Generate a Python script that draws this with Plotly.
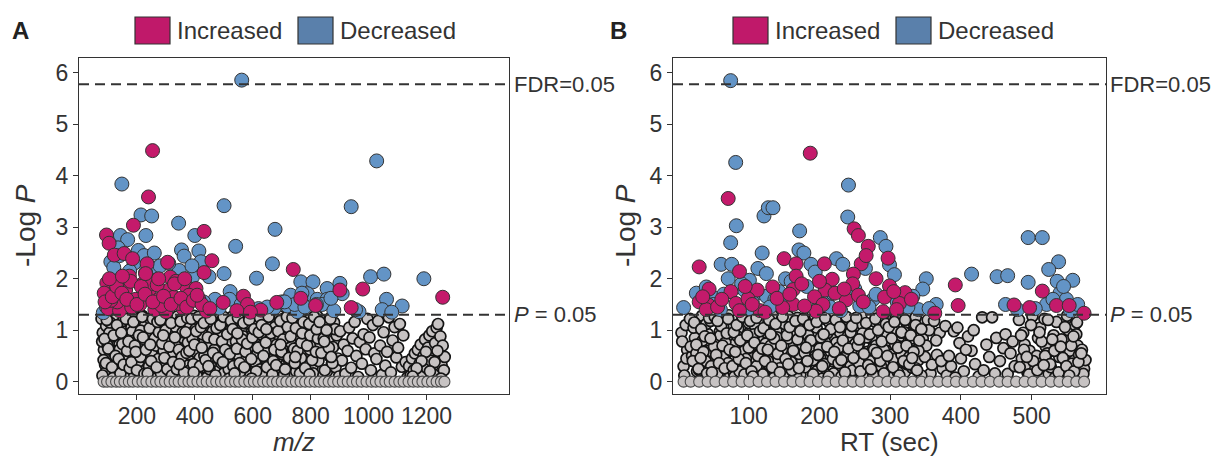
import plotly.graph_objects as go

# ---------------- Panel A (m/z) ----------------
inc_a_mz = [254, 240, 188, 95, 104, 432, 122, 156, 185, 235, 306, 459, 432, 740, 174, 315, 96, 220, 369, 404,
            161, 242, 310, 327, 414, 276, 121, 196, 87, 568, 498, 683, 766, 817, 901, 980, 1256, 940, 582, 628,
            100, 140, 182, 262, 300, 360, 440, 545, 592, 132, 210, 285, 345, 380, 110, 250,
            90, 115, 130, 148, 165, 178, 200, 215, 228, 255, 270, 292, 318, 335, 352, 372, 395, 425, 452, 105,
            150, 230, 275, 330, 365, 408]
inc_a_lp = [4.49, 3.59, 3.04, 2.85, 2.69, 2.92, 2.46, 2.49, 2.39, 2.29, 2.32, 2.35, 2.12, 2.18, 2.05, 2.03, 1.92, 1.9, 1.86, 1.81,
            1.78, 1.78, 1.78, 1.64, 1.6, 1.6, 1.72, 1.6, 1.72, 1.66, 1.54, 1.54, 1.62, 1.48, 1.78, 1.8, 1.64, 1.44, 1.5, 1.39,
            1.42, 1.38, 1.45, 1.4, 1.36, 1.42, 1.37, 1.38, 1.35, 1.55, 1.5, 1.48, 1.52, 1.68, 1.58, 1.9,
            1.55, 1.65, 1.85, 1.72, 1.6, 1.95, 1.5, 1.85, 1.7, 1.55, 1.88, 1.66, 1.5, 1.95, 1.62, 1.45, 1.58, 1.5, 1.42, 2.0,
            2.05, 2.1, 2.0, 1.9, 2.0, 1.68]

dec_a_mz = [562, 1028, 148, 501, 940, 214, 251, 231, 344, 677, 143, 168, 400, 541, 354, 363, 414, 421, 668, 110,
            128, 162, 254, 263, 346, 392, 449, 501, 613, 522, 766, 808, 857, 901, 731, 789, 823, 857, 909, 1007,
            1053, 1191, 1062, 1116, 1047, 967, 674, 720, 754, 484, 84, 135, 190, 280, 300, 230, 120, 700, 745, 780,
            840, 880, 620, 470, 955, 205,
            95, 140, 175, 225, 260, 310, 390, 430, 520, 560, 650, 710, 770, 820, 870, 1080]
dec_a_lp = [5.86, 4.29, 3.84, 3.42, 3.4, 3.24, 3.22, 2.84, 3.08, 2.96, 2.84, 2.76, 2.84, 2.63, 2.56, 2.44, 2.54, 2.33, 2.29, 2.33,
            2.1, 2.0, 2.2, 1.97, 2.16, 2.04, 2.04, 2.1, 2.01, 1.75, 1.94, 1.94, 1.81, 1.91, 1.68, 1.71, 1.6, 1.6, 1.71, 2.04,
            2.09, 2.0, 1.6, 1.47, 1.4, 1.36, 1.43, 1.47, 1.36, 1.43, 1.34, 2.6, 2.3, 2.25, 1.5, 2.12, 2.22, 1.55, 1.5, 1.45,
            1.5, 1.38, 1.42, 1.6, 1.4, 2.55,
            1.45, 2.45, 2.15, 2.45, 2.5, 2.3, 2.25, 1.55, 1.6, 1.5, 1.45, 1.55, 1.72, 1.5, 1.62, 1.35]

ns_a_mz = [78, 82, 86, 90, 94, 97, 80, 102, 106, 110, 115, 119, 123, 108, 127, 131, 136, 140, 144, 148, 134,
           152, 156, 160, 165, 169, 173, 158, 177, 181, 186, 190, 194, 198, 184, 202, 206, 211, 215, 219, 223, 209,
           227, 231, 235, 240, 244, 248, 238, 252, 256, 260, 265, 269, 273, 262, 277, 281, 285, 290, 294, 298, 288,
           302, 306, 311, 315, 319, 323, 308, 327, 331, 336, 340, 344, 348, 334, 352, 356, 360, 365, 369, 373, 362,
           377, 381, 386, 390, 394, 398, 384, 402, 406, 411, 415, 419, 423, 409, 427, 431, 436, 440, 444, 448, 434,
           452, 456, 460, 465, 469, 473, 462, 477, 481, 486, 490, 494, 498, 484, 502, 506, 511, 515, 519, 523, 509,
           527, 531, 536, 540, 544, 548, 534, 552, 556, 560, 565, 569, 573, 562, 577, 581, 586, 590, 594, 598, 584,
           602, 606, 611, 615, 619, 623, 609, 627, 631, 636, 640, 644, 648, 634, 652, 656, 660, 665, 669, 673, 662,
           677, 681, 686, 690, 694, 698, 684, 702, 706, 711, 715, 719, 723, 709, 727, 731, 736, 740, 744, 748, 734,
           752, 756, 760, 765, 769, 773, 762, 777, 781, 786, 790, 794, 798, 784, 802, 806, 811, 815, 819, 823, 809,
           827, 831, 836, 840, 844, 848, 834, 852, 856, 860, 865, 869, 873, 862, 877, 881, 886, 890, 894, 898, 884,
           902, 908, 914, 920, 928, 933, 940, 945, 952, 958, 964, 970, 977, 983, 990, 996, 1003, 1008, 1015, 1020,
           1027, 1033, 1040, 1046, 1052, 1058, 1064, 1070, 1077, 1083, 1090, 1096, 1102, 1108, 1115, 1120, 1128, 1134,
           1140, 1145, 1150, 1156, 1160, 1165, 1170, 1176, 1180, 1186, 1190, 1195, 1200, 1205, 1210, 1215, 1220, 1225,
           1230, 1235, 1240, 1244, 1248, 1252, 1256, 1260, 1263, 1250, 1238, 1228, 1212, 1198, 1183, 1166, 1152,
           85, 92, 99, 105, 112, 118, 133, 141, 147, 155, 161, 170, 183, 191, 197, 205, 213, 222,
           233, 242, 250, 258, 266, 274, 283, 292, 300, 309, 317, 326, 333, 342, 350, 358, 367, 376,
           383, 392, 400, 408, 417, 426, 433, 442, 450, 458, 467, 476, 483, 492, 500, 508, 517, 526,
           533, 542, 550, 558, 567, 576, 583, 592, 600, 608, 617, 626, 633, 642, 650, 658, 667, 676,
           683, 692, 700, 708, 717, 726, 733, 742, 750, 758, 767, 776]
ns_a_lp = [1.22, 0.95, 0.62, 0.33, 1.08, 0.15, 0.78, 1.27, 0.48, 0.86, 0.21, 1.12, 0.67, 0.05, 0.92, 1.25, 0.38, 0.72, 0.12, 1.02, 0.55,
           1.18, 0.27, 0.83, 0.58, 1.29, 0.09, 0.44, 0.69, 1.05, 0.18, 1.24, 0.41, 0.88, 0.97, 0.31, 1.15, 0.75, 0.52, 1.28, 0.07, 0.63,
           1.08, 0.22, 0.91, 0.46, 0.68, 1.2, 0.35, 0.57, 1.26, 0.13, 0.81, 1.01, 0.39, 0.74, 1.17, 0.49, 0.71, 0.26, 0.94, 1.29, 0.06,
           0.84, 0.17, 1.1, 0.61, 0.37, 1.23, 0.96, 0.29, 0.99, 0.53, 1.27, 0.77, 0.11, 1.06, 1.21, 0.64, 0.85, 0.2, 1.04, 0.43, 0.58,
           0.47, 1.14, 0.08, 0.9, 0.66, 1.28, 0.32, 1.02, 0.24, 0.79, 1.19, 0.51, 0.7, 0.14, 0.6, 1.25, 0.36, 0.93, 0.1, 1.08, 0.8,
           0.88, 0.19, 1.16, 0.45, 1.29, 0.63, 0.98, 0.34, 1.07, 0.72, 0.15, 0.96, 1.22, 0.5, 1.18, 0.56, 0.28, 0.83, 0.42, 1.0, 0.07,
           0.75, 1.27, 0.12, 0.61, 1.11, 0.38, 0.9, 0.23, 0.95, 1.2, 0.48, 0.7, 0.09, 1.04, 1.13, 0.41, 0.86, 1.26, 0.17, 0.66, 0.53,
           0.5, 0.99, 0.3, 1.15, 0.78, 0.13, 1.29, 0.92, 0.21, 1.05, 0.59, 1.24, 0.44, 0.71, 0.37, 1.19, 0.68, 0.08, 0.87, 1.02, 0.26,
           1.06, 0.54, 0.15, 0.97, 1.27, 0.4, 0.81, 0.64, 1.22, 0.89, 0.33, 0.06, 1.1, 0.52, 0.18, 0.83, 1.28, 0.58, 1.01, 0.35, 0.74,
           1.17, 0.46, 0.69, 0.11, 0.93, 1.25, 0.3, 0.55, 1.03, 0.22, 0.8, 1.2, 0.62, 0.05, 0.98, 0.27, 1.12, 0.43, 0.71, 1.27, 0.16,
           0.4, 0.88, 0.6, 1.18, 0.12, 0.95, 0.73, 1.08, 0.2, 0.79, 0.5, 1.24, 0.34, 0.63, 0.67, 1.15, 0.28, 0.9, 0.45, 0.1, 1.02,
           0.98, 0.41, 0.72, 0.15, 0.6, 1.05, 0.27, 0.84, 1.16, 0.5, 0.09, 0.77, 0.35, 0.92, 0.63, 1.22, 0.86, 0.22, 1.1, 0.55,
           0.44, 1.18, 0.7, 0.13, 0.96, 0.31, 0.58, 1.25, 0.18, 0.8, 1.06, 0.47, 0.66, 1.12, 0.29, 0.9, 0.38, 0.08,
           0.3, 0.12, 0.45, 0.22, 0.55, 0.08, 0.62, 0.35, 0.72, 0.18, 0.5, 0.82, 0.27, 0.66, 0.9, 0.41, 0.98, 0.14,
           0.75, 1.05, 1.12, 0.52, 0.88, 0.33, 0.7, 0.22, 0.48, 0.06, 0.6, 0.38, 0.2, 0.58, 0.4, 0.26, 0.1,
           0.42, 0.18, 0.7, 0.95, 0.3, 0.58, 0.25, 0.63, 0.9, 0.14, 0.48, 0.8, 0.56, 0.12, 0.82, 0.38, 0.99, 0.2,
           0.88, 0.3, 0.55, 0.06, 0.7, 0.44, 0.16, 0.6, 0.36, 0.82, 0.05, 0.52, 0.7, 0.4, 0.14, 0.96, 0.32, 0.76,
           0.22, 0.84, 0.58, 0.1, 0.46, 0.92, 0.5, 0.08, 0.74, 0.28, 0.62, 0.2, 0.9, 0.36, 0.16, 0.66, 0.24, 0.8,
           0.3, 0.78, 0.52, 0.2, 0.88, 0.42, 0.66, 0.12, 0.92, 0.38, 0.56, 0.24, 0.18, 0.58, 0.34, 0.8, 0.1, 0.48,
           0.72, 0.26, 0.54, 0.14, 0.86, 0.4, 0.32, 0.64, 0.2, 0.9, 0.46, 0.12]

core_a_mz = [81, 88, 93, 101, 107, 114, 120, 126, 96, 117, 131, 137, 143, 150, 154, 162, 166, 175, 146, 171,
             181, 188, 193, 200, 207, 212, 218, 226, 196, 221, 231, 237, 244, 249, 255, 261, 268, 276, 246, 271,
             281, 287, 295, 299, 305, 312, 318, 325, 291, 321, 331, 338, 345, 351, 355, 363, 368, 374, 347, 371,
             381, 388, 395, 399, 405, 413, 418, 424, 396, 421, 431, 437, 445, 451, 455, 463, 468, 475, 447, 471,
             481, 488, 494, 499, 505, 512, 518, 525, 497, 521, 531, 537, 545, 549, 555, 563, 568, 575, 547, 571,
             581, 588, 595, 599, 605, 612, 618, 625, 596, 621, 631, 637, 645, 649, 655, 663, 668, 675, 647, 671,
             681, 688, 695, 699, 705, 712, 718, 725, 696, 721, 731, 737, 745, 749, 755, 763, 768, 775, 747, 771,
             781, 788, 795, 799, 805, 812, 818, 825, 796, 821, 831, 837, 845, 849, 855, 863, 868, 875, 847, 871]
core_a_lp = [0.12, 0.83, 0.36, 0.64, 1.15, 0.28, 0.9, 0.5, 1.2, 0.07, 1.1, 0.44, 0.16, 0.73, 0.33, 1.22, 0.6, 0.26, 0.95, 0.78,
             0.38, 1.16, 0.7, 0.22, 0.9, 0.48, 1.26, 0.15, 0.58, 0.86, 0.62, 0.16, 1.04, 0.4, 1.22, 0.84, 0.28, 0.96, 0.72, 1.16,
             1.2, 0.74, 0.46, 1.0, 0.24, 0.68, 1.14, 0.38, 0.9, 0.12, 0.86, 0.24, 0.62, 1.17, 0.48, 0.18, 0.96, 1.24, 0.34, 0.56,
             0.6, 1.22, 0.34, 0.72, 0.98, 1.26, 0.3, 0.66, 0.18, 1.06, 1.14, 0.42, 0.86, 0.24, 1.22, 0.56, 0.82, 1.04, 0.3, 0.12,
             0.46, 1.1, 0.78, 1.26, 0.62, 0.92, 0.06, 1.18, 0.38, 0.54, 1.02, 0.16, 0.64, 1.24, 0.36, 0.82, 1.14, 0.58, 0.94, 0.28,
             0.74, 1.2, 0.44, 0.86, 1.02, 0.2, 0.66, 1.24, 0.06, 0.96, 1.1, 0.5, 0.76, 0.28, 1.26, 0.94, 0.14, 0.62, 1.02, 0.4,
             0.32, 0.98, 1.18, 0.58, 0.82, 0.24, 1.26, 0.46, 0.72, 1.06, 0.88, 1.24, 0.36, 1.04, 0.6, 0.16, 0.76, 1.16, 0.48, 0.94,
             0.26, 0.7, 1.12, 0.9, 0.42, 1.26, 0.58, 0.84, 0.14, 1.02, 1.16, 0.56, 0.84, 0.22, 1.0, 0.66, 1.22, 0.36, 0.78, 0.48]

zero_a_mz = [85, 97, 112, 128, 141, 157, 172, 186, 203, 219, 233, 250, 266, 281, 297, 313, 330, 344, 361, 378,
             392, 409, 425, 441, 458, 474, 490, 505, 522, 539, 553, 571, 588, 604, 619, 636, 652, 668, 684, 700,
             716, 733, 749, 765, 781, 797, 814, 830, 846, 862, 878, 895, 911, 928, 944, 960, 976, 993, 1010, 1025,
             1041, 1058, 1073, 1090, 1106, 1121, 1138, 1154, 1170, 1186, 1203, 1219, 1235, 1250, 1262]

# ---------------- Panel B (RT) ----------------
inc_b_rt = [187, 71, 249, 255, 269, 259, 266, 30, 150, 167, 207, 87, 297, 218, 167, 248, 44, 134, 163, 208,
            247, 75, 112, 392, 299, 321, 515, 30, 43, 82, 99, 193, 205, 238, 255, 292, 313, 396, 475, 497,
            535, 553, 574, 363, 116, 123, 195, 290, 309, 40, 56, 87, 163, 179, 228, 148,
            35, 62, 95, 105, 140, 158, 175, 200, 222, 235, 262, 280, 305, 330]
inc_b_lp = [4.44, 3.56, 2.97, 2.84, 2.63, 2.29, 2.45, 2.23, 2.39, 2.29, 2.29, 2.14, 2.4, 1.99, 2.05, 2.09, 1.8, 1.84, 1.79, 1.78,
            1.9, 1.75, 1.78, 1.88, 1.86, 1.73, 1.76, 1.55, 1.49, 1.52, 1.61, 1.65, 1.5, 1.59, 1.68, 1.64, 1.52, 1.48, 1.49, 1.44,
            1.48, 1.48, 1.33, 1.33, 1.38, 1.35, 1.37, 1.36, 1.4, 1.4, 1.45, 1.38, 1.5, 1.47, 1.42, 1.44,
            1.65, 1.6, 1.85, 1.5, 1.62, 1.7, 1.9, 1.95, 1.72, 1.8, 1.55, 2.0, 1.75, 1.6]

dec_b_rt = [74.5, 81.6, 241, 121.6, 127.7, 134.3, 82.5, 240, 172, 74.5, 286, 294, 299, 306, 495, 515, 538, 524, 558, 495,
            536, 415, 451, 466, 351, 346, 119, 61, 76, 71, 171, 178, 188, 194, 224, 233, 265, 113, 125, 8,
            152, 101, 94, 111, 125, 137, 463, 521, 540, 549, 332, 318, 365, 26, 40, 54, 257, 276, 210, 219,
            60, 100, 145, 230, 270, 340, 505, 555,
            35, 50, 65, 90, 105, 130, 143, 160, 182, 200, 215, 250, 280, 310, 325, 355, 480, 530, 545, 565]
dec_b_lp = [5.85, 4.26, 3.82, 3.22, 3.38, 3.38, 3.03, 3.2, 2.93, 2.7, 2.8, 2.63, 2.27, 2.08, 2.8, 2.8, 2.33, 2.18, 1.97, 1.93,
            1.95, 2.09, 2.04, 2.06, 2.0, 1.8, 2.5, 2.28, 2.28, 2.0, 2.56, 2.5, 2.28, 2.13, 2.39, 2.28, 2.2, 2.2, 2.1, 1.44,
            2.0, 1.97, 1.78, 1.72, 1.66, 1.6, 1.5, 1.5, 1.72, 1.6, 1.66, 1.5, 1.5, 1.72, 1.84, 1.62, 1.47, 1.6, 1.6, 1.72,
            1.4, 1.42, 1.5, 1.38, 1.45, 1.4, 1.42, 1.38,
            1.6, 1.5, 1.7, 1.9, 1.55, 1.45, 1.75, 1.95, 1.85, 1.5, 1.45, 1.8, 1.7, 1.55, 1.45, 1.42, 1.4, 1.6, 1.85, 1.5]

ns_b_rt = [5, 8, 11, 13, 9, 6, 12, 17, 20, 24, 27, 22, 18, 28, 31, 34, 38, 42, 36, 40, 44,
           46, 49, 53, 57, 51, 55, 59, 61, 64, 68, 72, 66, 70, 74, 76, 79, 83, 87, 81, 85, 89,
           91, 94, 98, 102, 96, 100, 104, 106, 109, 113, 117, 111, 115, 119, 121, 124, 128, 132, 126, 130, 134,
           136, 139, 143, 147, 141, 145, 149, 151, 154, 158, 162, 156, 160, 164, 166, 169, 173, 177, 171, 175, 179,
           181, 184, 188, 192, 186, 190, 194, 196, 199, 203, 207, 201, 205, 209, 211, 214, 218, 222, 216, 220, 224,
           226, 229, 233, 237, 231, 235, 239, 241, 244, 248, 252, 246, 250, 254, 256, 259, 263, 267, 261, 265, 269,
           271, 274, 278, 282, 276, 280, 284, 286, 289, 293, 297, 291, 295, 299, 301, 304, 308, 312, 306, 310, 314,
           316, 319, 323, 327, 321, 325, 329, 331, 334, 338, 342, 336, 340, 344, 346, 349, 353, 357, 351, 355, 359,
           362, 366, 370, 374, 378, 365, 372, 380, 386, 390, 395, 400, 404, 398, 392, 410, 415, 420, 425, 430,
           436, 444, 440, 432, 450, 455, 460, 466, 470, 476, 463, 473, 418, 448, 383, 407,
           482, 486, 490, 494, 488, 492, 497, 501, 505, 509, 503, 507, 512, 516, 520, 524, 518, 522,
           527, 531, 535, 539, 533, 537, 542, 546, 550, 554, 548, 552, 557, 561, 565, 569, 563, 567, 571, 574, 576, 573,
           26, 30, 35, 39, 43, 47, 51, 56, 60, 64, 67, 71, 76, 80, 84, 87, 91, 96, 100, 104,
           107, 111, 116, 120, 124, 127, 131, 136, 140, 144, 147, 151, 156, 160, 164, 167, 171, 176, 180, 184,
           187, 191, 196, 200, 204, 207, 211, 216, 220, 224, 227, 231, 236, 240, 244, 247, 251, 256, 260, 264,
           267, 271, 276, 280, 284, 287, 291, 296, 300, 304, 307, 311, 316, 320, 324, 327, 331, 336, 340, 344]
ns_b_lp = [0.95, 0.3, 1.1, 0.62, 0.12, 0.78, 0.45, 1.22, 0.5, 0.85, 0.2, 1.05, 0.68, 0.36, 0.7, 1.28, 0.15, 0.93, 0.48, 1.12, 0.6,
           1.18, 0.38, 0.82, 0.07, 1.26, 0.55, 0.97, 0.26, 1.06, 0.64, 1.29, 0.44, 0.88, 0.13, 0.9, 0.18, 1.2, 0.52, 0.74, 1.03, 0.33,
           1.27, 0.6, 0.28, 0.98, 0.1, 1.14, 0.71, 0.46, 1.08, 0.86, 0.2, 1.25, 0.62, 0.37, 0.8, 0.12, 1.16, 0.58, 0.94, 0.3, 1.28,
           0.22, 0.99, 0.67, 1.21, 0.4, 0.83, 0.06, 1.12, 0.5, 0.31, 0.9, 1.27, 0.16, 0.72, 0.58, 1.24, 0.14, 0.77, 1.02, 0.42, 0.95,
           0.34, 0.87, 1.18, 0.09, 0.63, 1.29, 0.5, 1.05, 0.25, 0.7, 1.22, 0.46, 0.92, 0.15, 0.66, 1.15, 0.4, 0.85, 0.11, 1.26, 0.56,
           0.2, 0.96, 1.28, 0.53, 0.78, 0.32, 1.09, 1.2, 0.44, 0.62, 1.0, 0.17, 0.88, 0.29, 0.75, 1.27, 0.08, 0.58, 1.1, 0.38, 0.92,
           0.41, 0.83, 1.17, 0.23, 0.66, 1.29, 0.5, 1.08, 0.14, 0.76, 0.97, 0.35, 0.6, 1.24, 0.52, 1.21, 0.3, 0.86, 1.02, 0.1, 0.68,
           0.95, 0.37, 1.14, 0.6, 0.19, 1.28, 0.79, 0.27, 1.1, 0.55, 0.88, 1.25, 0.42, 0.07, 0.84, 0.48, 1.2, 0.16, 0.7, 1.0, 0.33,
           1.18, 0.52, 0.95, 0.25, 1.08, 0.8, 0.4, 0.12, 0.3, 0.98, 1.05, 0.45, 0.2, 0.75, 0.08, 0.88, 0.6, 0.34, 0.1, 1.25,
           0.72, 1.25, 0.48, 0.22, 0.85, 0.4, 0.65, 0.15, 0.55, 0.3, 0.92, 0.78, 1.0, 0.16, 0.5, 0.62,
           1.2, 0.45, 0.72, 0.18, 0.95, 0.32, 0.6, 1.27, 0.25, 0.85, 0.1, 0.5, 1.05, 0.38, 0.68, 0.15, 1.22, 0.55,
           0.28, 0.9, 1.16, 0.48, 0.08, 0.75, 0.82, 0.2, 1.28, 0.6, 0.4, 1.0, 0.35, 1.1, 0.7, 0.12, 0.92, 0.52, 0.62, 0.25, 0.42, 0.15,
           0.55, 0.22, 0.8, 0.4, 0.12, 0.3, 0.68, 0.16, 0.9, 0.48, 0.76, 0.36, 0.6, 0.1, 0.88, 0.2, 0.82, 0.44, 0.66, 0.05,
           0.92, 0.3, 0.56, 0.14, 0.74, 0.4, 0.7, 0.08, 0.86, 0.26, 0.62, 0.18, 0.84, 0.38, 0.98, 0.12, 0.54, 0.72, 0.28, 0.9,
           0.8, 0.42, 0.2, 0.64, 0.06, 0.34, 0.94, 0.58, 0.16, 0.76, 0.66, 0.1, 0.46, 0.88, 0.3, 0.22, 0.74, 0.36, 0.56, 0.92,
           0.86, 0.4, 0.14, 0.7, 0.5, 0.3, 0.62, 0.9, 0.08, 0.44, 0.72, 0.18, 0.52, 0.96, 0.34, 0.48, 0.84, 0.26, 0.6, 0.12]

core_b_rt = [21, 23, 26, 29, 33, 36, 38, 41, 44, 32, 46, 48, 52, 54, 58, 61, 63, 66, 69, 56,
             71, 73, 77, 79, 83, 86, 88, 91, 94, 81, 96, 98, 102, 104, 108, 111, 113, 116, 119, 106,
             121, 123, 127, 129, 133, 136, 138, 141, 144, 131, 146, 148, 152, 154, 158, 161, 163, 166, 169, 156,
             171, 173, 177, 179, 183, 186, 188, 191, 194, 181, 196, 198, 202, 204, 208, 211, 213, 216, 219, 206,
             221, 223, 227, 229, 233, 236, 238, 241, 244, 231, 246, 248, 252, 254, 258, 261, 263, 266, 269, 256,
             271, 273, 277, 279, 283, 286, 288, 291, 294, 281, 296, 298, 302, 304, 308, 311, 313, 316, 319, 306,
             321, 323, 327, 329, 333, 336, 338, 341, 344, 331,
             483, 489, 496, 502, 508, 514, 519, 526, 532, 538, 544, 549, 556, 560, 566, 570,
             485, 493, 499, 511, 517, 523, 529, 541, 547, 553, 559, 564]
core_b_lp = [0.4, 1.15, 0.72, 0.25, 1.02, 0.58, 0.88, 0.16, 1.24, 0.46, 0.84, 0.18, 1.26, 0.52, 0.36, 1.08, 0.7, 0.26, 0.94, 1.18,
             1.22, 0.62, 0.3, 0.96, 1.1, 0.44, 0.8, 1.26, 0.14, 0.58, 0.36, 0.9, 1.18, 0.2, 0.76, 1.24, 0.5, 0.98, 0.64, 0.1,
             1.04, 0.4, 0.62, 1.2, 0.28, 0.84, 1.12, 0.54, 0.18, 0.92, 0.7, 1.26, 0.44, 0.9, 1.06, 0.22, 0.6, 1.18, 0.82, 0.34,
             0.26, 0.98, 1.22, 0.56, 0.4, 1.1, 0.8, 0.14, 1.26, 0.66, 1.16, 0.52, 0.86, 0.3, 1.24, 0.68, 0.1, 1.02, 0.44, 0.92,
             0.58, 1.2, 0.36, 1.06, 0.8, 0.18, 1.26, 0.64, 0.96, 0.42, 1.08, 0.46, 1.24, 0.7, 0.2, 0.94, 0.54, 1.14, 0.32, 0.82,
             0.92, 0.24, 0.62, 1.22, 1.0, 0.4, 0.78, 0.16, 1.12, 0.56, 0.5, 1.06, 0.84, 0.28, 1.24, 0.66, 0.12, 0.96, 0.4, 1.16,
             1.2, 0.7, 0.34, 0.9, 0.58, 1.1, 0.22, 0.8, 1.02, 0.46,
             0.28, 0.62, 0.14, 0.4, 0.22, 0.78, 0.5, 0.34, 0.6, 0.18, 0.46, 0.3, 0.7, 0.2, 0.38, 0.55,
             0.9, 0.48, 1.1, 0.96, 0.32, 1.2, 0.82, 0.68, 1.06, 0.12, 0.88, 1.15]

zero_b_rt = [8, 18, 30, 42, 53, 66, 78, 90, 101, 114, 126, 138, 150, 162, 174, 186, 198, 211, 223, 235,
             247, 259, 271, 283, 296, 308, 320, 332, 344, 356, 368, 381, 393, 405, 417, 429, 441, 454, 466, 478,
             490, 502, 514, 527, 539, 551, 563, 574]

yticks = [0, 1, 2, 3, 4, 5, 6]
xticks_a = [200, 400, 600, 800, 1000, 1200]
xticks_b = [100, 200, 300, 400, 500]
fdr_line = 5.78
p_line = 1.301
labels = ["Increased", "Decreased"]

# ---------------- styling ----------------
# the page body has an 8px margin, so the figure is drawn 8px smaller and
# all layout positions below are given in window pixels and shifted by it.
OFF = 8
W, H = 1224 - OFF, 456 - OFF
PINK = "#c41a6b"
BLUE = "#6394c6"
GREY = "#c7c3c3"
EDGE = "#333333"
TXT = "#333333"
FONT = "Liberation Sans"


def px(x):
    return (x - OFF) / W


def py(y):
    return 1 - (y - OFF) / H


fig = go.Figure()


def add_panel(xa, ya, ns_x, ns_y, zero_x, dec_x, dec_y, inc_x, inc_y):
    fig.add_trace(go.Scatter(x=ns_x, y=ns_y, mode="markers", xaxis=xa, yaxis=ya,
                             marker=dict(size=11, color=GREY, line=dict(color="#141414", width=1.7))))
    fig.add_trace(go.Scatter(x=zero_x, y=[0] * len(zero_x), mode="markers", xaxis=xa, yaxis=ya,
                             marker=dict(size=11, color=GREY, line=dict(color="#4a4a4a", width=1.1))))
    fig.add_trace(go.Scatter(x=dec_x, y=dec_y, mode="markers", xaxis=xa, yaxis=ya,
                             marker=dict(size=14, color=BLUE, line=dict(color=EDGE, width=1))))
    fig.add_trace(go.Scatter(x=inc_x, y=inc_y, mode="markers", xaxis=xa, yaxis=ya,
                             marker=dict(size=14, color=PINK, line=dict(color=EDGE, width=1))))


add_panel("x", "y", ns_a_mz + core_a_mz, ns_a_lp + core_a_lp, zero_a_mz, dec_a_mz, dec_a_lp, inc_a_mz, inc_a_lp)
add_panel("x2", "y2", ns_b_rt + core_b_rt, ns_b_lp + core_b_lp, zero_b_rt, dec_b_rt, dec_b_lp, inc_b_rt, inc_b_lp)

axis_common = dict(showline=True, mirror=True, linecolor=EDGE, linewidth=1.3, ticks="outside",
                   ticklen=5, tickwidth=1.2, tickcolor=EDGE, showgrid=False, zeroline=False,
                   tickfont=dict(family=FONT, size=23, color=TXT))

ydom = [py(394), py(58)]
fig.update_layout(
    width=W, height=H, margin=dict(l=0, r=0, t=0, b=0),
    paper_bgcolor="white", plot_bgcolor="white", showlegend=False,
    xaxis=dict(domain=[px(79), px(509)], range=[0, 1485], tickvals=xticks_a, anchor="y",
               ticklabelstandoff=-4, **axis_common),
    yaxis=dict(domain=ydom, range=[-0.24, 6.29], tickvals=yticks, anchor="x", **axis_common),
    xaxis2=dict(domain=[px(673), px(1106)], range=[-7, 605], tickvals=xticks_b, anchor="y2",
                ticklabelstandoff=-4, **axis_common),
    yaxis2=dict(domain=ydom, range=[-0.24, 6.29], tickvals=yticks, anchor="x2", **axis_common),
)

shapes = []
ann = []
for xd, yr, lab_x in (("x domain", "y", 512), ("x2 domain", "y2", 1108)):
    for yv in (fdr_line, p_line):
        shapes.append(dict(type="line", xref=xd, yref=yr, x0=0, x1=1, y0=yv, y1=yv,
                           line=dict(color=EDGE, width=2, dash="10px,6px"), layer="above"))
    ann.append(dict(text="FDR=0.05", xref="paper", yref=yr, x=px(lab_x), y=fdr_line, xanchor="left",
                    yanchor="middle", showarrow=False, font=dict(family=FONT, size=22, color=TXT)))
    ann.append(dict(text="<i>P</i> = 0.05", xref="paper", yref=yr, x=px(lab_x), y=p_line, xanchor="left",
                    yanchor="middle", showarrow=False, font=dict(family=FONT, size=22, color=TXT)))

# panel letters, legends, axis titles
for letter, lx, pk_x, ax_title, ax_cx, yt_x in (("A", 20, 135, "<i>m/z</i>", 294, 26),
                                                  ("B", 618, 733, "RT (sec)", 889, 626)):
    ann.append(dict(text="<b>%s</b>" % letter, xref="paper", yref="paper", x=px(lx), y=py(31),
                    xanchor="center", yanchor="middle",
                    showarrow=False, font=dict(family=FONT, size=24, color="#222222")))
    # legend keys
    shapes.append(dict(type="rect", xref="paper", yref="paper", x0=px(pk_x), x1=px(pk_x + 35),
                       y0=py(44), y1=py(17), fillcolor="#c0196a", line=dict(color=EDGE, width=1.2)))
    ann.append(dict(text=labels[0], xref="paper", yref="paper", x=px(pk_x + 40), y=py(31), xanchor="left",
                    yanchor="middle", showarrow=False, font=dict(family=FONT, size=24, color=TXT)))
    bk = pk_x + 163
    shapes.append(dict(type="rect", xref="paper", yref="paper", x0=px(bk), x1=px(bk + 35),
                       y0=py(44), y1=py(17), fillcolor="#5a80ab", line=dict(color=EDGE, width=1.2)))
    ann.append(dict(text=labels[1], xref="paper", yref="paper", x=px(bk + 40), y=py(31), xanchor="left",
                    yanchor="middle", showarrow=False, font=dict(family=FONT, size=24, color=TXT)))
    ann.append(dict(text=ax_title, xref="paper", yref="paper", x=px(ax_cx), y=py(442), xanchor="center",
                    yanchor="middle", showarrow=False, font=dict(family=FONT, size=26, color=TXT)))
    ann.append(dict(text="-Log <i>P</i>", xref="paper", yref="paper", x=px(yt_x), y=py(226), textangle=-90,
                    xanchor="center", yanchor="middle",
                    showarrow=False, font=dict(family=FONT, size=28, color=TXT)))

fig.update_layout(shapes=shapes, annotations=ann)
fig.write_html("out.html")
